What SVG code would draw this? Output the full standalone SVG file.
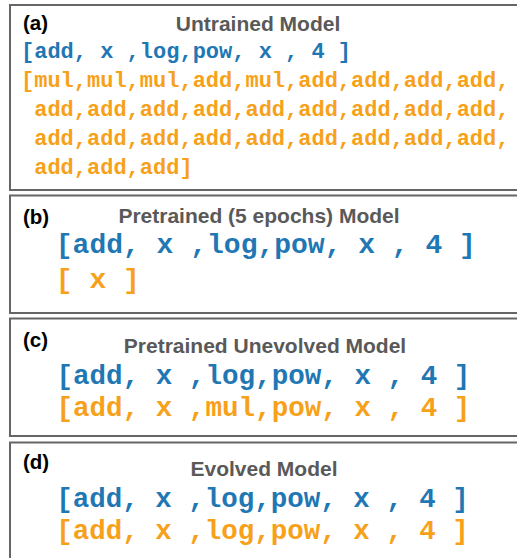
<svg xmlns="http://www.w3.org/2000/svg" width="517" height="558" viewBox="0 0 517 558">
<style>
.box{fill:#ffffff;stroke:#666666;stroke-width:2}
.lbl{font-family:"Liberation Sans",Arial,sans-serif;font-weight:bold;font-size:20.5px;fill:#000000}
.ttl{font-family:"Liberation Sans",Arial,sans-serif;font-weight:bold;font-size:21px;fill:#595959;text-anchor:middle}
.code{font-family:"Liberation Mono","Courier New",monospace;font-weight:bold;white-space:pre}
.blue{fill:#1f77b4}
.orange{fill:#f7a11a}
</style>
<rect width="517" height="558" fill="#ffffff"/>
<g id="panel-a">
<rect class="box" x="10" y="5" width="520" height="185"/>
<text class="lbl" x="23" y="30">(a)</text>
<text class="ttl" x="258" y="31">Untrained Model</text>
<text class="code blue" x="21" y="57.5" font-size="22" xml:space="preserve">[add, x ,log,pow, x , 4 ]</text>
<text class="code orange" x="21" y="86.5" font-size="22" xml:space="preserve">[mul,mul,mul,add,mul,add,add,add,add,</text>
<text class="code orange" x="21" y="115.5" font-size="22" xml:space="preserve"> add,add,add,add,add,add,add,add,add,</text>
<text class="code orange" x="21" y="144.5" font-size="22" xml:space="preserve"> add,add,add,add,add,add,add,add,add,</text>
<text class="code orange" x="21" y="173.5" font-size="22" xml:space="preserve"> add,add,add]</text>
</g>
<g id="panel-b">
<rect class="box" x="10" y="195.5" width="520" height="117.5"/>
<text class="lbl" x="23" y="224">(b)</text>
<text class="ttl" x="259" y="223">Pretrained (5 epochs) Model</text>
<text class="code blue" x="55.8" y="253" font-size="28" xml:space="preserve">[add, x ,log,pow, x , 4 ]</text>
<text class="code orange" x="55.8" y="288" font-size="28" xml:space="preserve">[ x ]</text>
</g>
<g id="panel-c">
<rect class="box" x="10" y="318.5" width="520" height="117.5"/>
<text class="lbl" x="23" y="347">(c)</text>
<text class="ttl" x="265" y="353">Pretrained Unevolved Model</text>
<text class="code blue" x="56.4" y="384" font-size="27.6" xml:space="preserve">[add, x ,log,pow, x , 4 ]</text>
<text class="code orange" x="56.4" y="416" font-size="27.6" xml:space="preserve">[add, x ,mul,pow, x , 4 ]</text>
</g>
<g id="panel-d">
<rect class="box" x="10" y="442.5" width="520" height="130"/>
<text class="lbl" x="23" y="469">(d)</text>
<text class="ttl" x="264" y="476">Evolved Model</text>
<text class="code blue" x="56.2" y="507" font-size="27.5" xml:space="preserve">[add, x ,log,pow, x , 4 ]</text>
<text class="code orange" x="56.2" y="539" font-size="27.5" xml:space="preserve">[add, x ,log,pow, x , 4 ]</text>
</g>
<g id="connectors"></g>
</svg>
